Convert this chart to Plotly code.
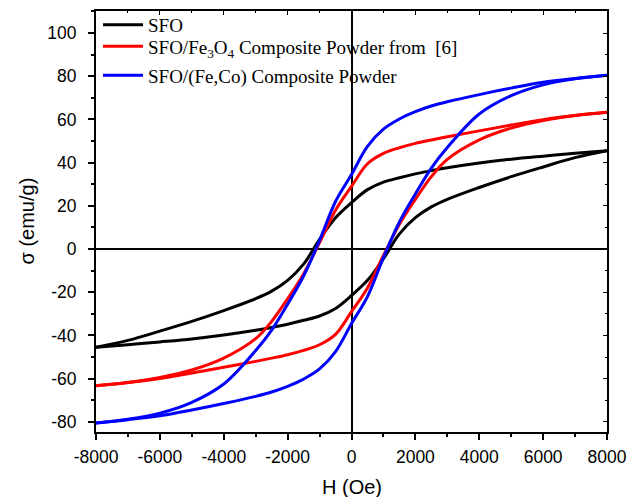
import plotly.graph_objects as go

# Field values (Oe): descending branch then ascending branch
H_down = [8000, 7000, 6000, 5000, 4000, 3000, 2500, 2000, 1500, 1000, 500, 0,
          -500, -1000, -1500, -2000, -2500, -3000, -4000, -5000, -6000, -7000, -8000]
H_up = [-8000, -7000, -6000, -5000, -4000, -3000, -2500, -2000, -1500, -1000, -500, 0,
        500, 1000, 1500, 2000, 2500, 3000, 4000, 5000, 6000, 7000, 8000]

# SFO
sfo_down = [45.5, 44.3, 43.0, 41.6, 39.8, 37.6, 36.3, 34.8, 33.0, 31.0, 27.5, 21.5,
            14.5, 4.5, -7.0, -14.5, -19.5, -23.0, -28.5, -33.5, -38.0, -42.3, -45.5]
sfo_up = [-45.5, -44.3, -43.0, -41.6, -39.8, -37.6, -36.3, -34.8, -33.0, -31.0, -27.5, -21.5,
          -14.5, -4.5, 7.0, 14.5, 19.5, 23.0, 28.5, 33.5, 38.0, 42.3, 45.5]

# SFO/Fe3O4
fe3o4_down = [63.3, 61.8, 59.9, 57.4, 54.7, 52.0, 50.5, 48.9, 46.9, 44.3, 39.5, 29.0,
              18.0, 3.0, -11.5, -23.0, -33.5, -41.5, -50.5, -56.0, -59.5, -61.8, -63.3]
fe3o4_up = [-63.3, -61.8, -59.9, -57.4, -54.7, -52.0, -50.5, -48.9, -46.9, -44.3, -39.5, -29.0,
            -18.0, -3.0, 11.5, 23.0, 33.5, 41.5, 50.5, 56.0, 59.5, 61.8, 63.3]

# SFO/(Fe,Co)
feco_down = [80.5, 79.0, 77.2, 74.5, 71.5, 68.2, 66.2, 63.6, 60.2, 55.5, 47.5, 34.5,
             22.0, 4.0, -12.5, -25.5, -37.5, -47.0, -62.5, -71.0, -76.0, -78.8, -80.5]
feco_up = [-80.5, -79.0, -77.2, -74.5, -71.5, -68.2, -66.2, -63.6, -60.2, -55.5, -47.5, -34.5,
           -22.0, -4.0, 12.5, 25.5, 37.5, 47.0, 62.5, 71.0, 76.0, 78.8, 80.5]

names = ["SFO",
         "SFO/Fe<sub>3</sub>O<sub>4</sub> Composite Powder from\u00a0\u00a0[6]",
         "SFO/(Fe,Co) Composite Powder"]
colors = ["#000000", "#FF0000", "#0000FF"]
legends = ["legend", "legend2", "legend3"]
series = [(sfo_down, sfo_up), (fe3o4_down, fe3o4_up), (feco_down, feco_up)]

x_ticks = [-8000, -6000, -4000, -2000, 0, 2000, 4000, 6000, 8000]
y_ticks = [-80, -60, -40, -20, 0, 20, 40, 60, 80, 100]
x_title = "H (Oe)"
y_title = "σ (emu/g)"

fig = go.Figure()
for i, (name, color, lg, (down, up)) in enumerate(zip(names, colors, legends, series)):
    fig.add_trace(go.Scatter(
        x=H_down, y=down, mode="lines", name=name, legend=lg,
        legendgroup="g%d" % i,
        line=dict(color=color, width=3, shape="spline", smoothing=1.0),
    ))
    fig.add_trace(go.Scatter(
        x=H_up, y=up, mode="lines", name=name, legend=lg,
        legendgroup="g%d" % i, showlegend=False,
        line=dict(color=color, width=3, shape="spline", smoothing=1.0),
    ))

# dummy trace to host mirrored inside ticks on top/right
fig.add_trace(go.Scatter(x=[None], y=[None], xaxis="x2", yaxis="y2",
                         showlegend=False, hoverinfo="skip"))

tickfont = dict(family="Liberation Sans, Arial, sans-serif", size=17.5, color="black")
titlefont = dict(family="Liberation Sans, Arial, sans-serif", size=20, color="black")
legfont = dict(family="Liberation Serif, Times New Roman, serif", size=19, color="black")

xr = [-8000, 8000]
yr = [-84.7, 110.2]

PLOT_TOP, PLOT_BOTTOM, PLOT_LEFT, PLOT_W = 11, 432, 96, 511
PLOT_H = PLOT_BOTTOM - PLOT_TOP


def leg(ytop):
    return dict(x=(98 - PLOT_LEFT) / PLOT_W, y=(PLOT_BOTTOM - ytop) / PLOT_H,
                xanchor="left", yanchor="top",
                bgcolor="rgba(0,0,0,0)", borderwidth=0, font=legfont,
                tracegroupgap=0, itemwidth=40)


fig.update_layout(
    width=643, height=497,
    margin=dict(l=96, r=36, t=11, b=65, autoexpand=False),
    paper_bgcolor="white", plot_bgcolor="white",
    showlegend=True,
    legend=leg(6),
    legend2=leg(27.4),
    legend3=leg(56.4),
    xaxis=dict(range=xr, tickmode="array", tickvals=x_ticks,
               ticktext=[str(v) for v in x_ticks],
               ticks="outside", ticklen=6, tickwidth=1.5, tickcolor="black",
               minor=dict(ticks="outside", ticklen=3, tickwidth=1.5, tickcolor="black",
                          dtick=1000, tick0=0, showgrid=False),
               showline=True, linewidth=2, linecolor="black", mirror=True,
               showgrid=False, zeroline=True, zerolinecolor="black", zerolinewidth=2,
               tickfont=tickfont, ticklabelstandoff=2),
    yaxis=dict(range=yr, tickmode="array", tickvals=y_ticks,
               ticktext=[str(v) for v in y_ticks],
               ticks="outside", ticklen=6, tickwidth=1.5, tickcolor="black",
               minor=dict(ticks="outside", ticklen=3, tickwidth=1.5, tickcolor="black",
                          dtick=10, tick0=0, showgrid=False),
               showline=True, linewidth=2, linecolor="black", mirror=True,
               showgrid=False, zeroline=True, zerolinecolor="black", zerolinewidth=2,
               tickfont=tickfont, ticklabelstandoff=8),
    xaxis2=dict(range=xr, overlaying="x", side="top", anchor="y",
                tickmode="linear", tick0=0, dtick=2000,
                ticks="inside", ticklen=4, tickwidth=1.2, tickcolor="black",
                minor=dict(ticks="inside", ticklen=2, tickwidth=1.2, tickcolor="black",
                           dtick=1000, tick0=0),
                showticklabels=False, showline=False, showgrid=False, zeroline=False),
    yaxis2=dict(range=yr, overlaying="y", side="right", anchor="x",
                tickmode="linear", tick0=0, dtick=20,
                ticks="inside", ticklen=4, tickwidth=1.2, tickcolor="black",
                minor=dict(ticks="inside", ticklen=2, tickwidth=1.2, tickcolor="black",
                           dtick=10, tick0=0),
                showticklabels=False, showline=False, showgrid=False, zeroline=False),
    annotations=[
        dict(text=x_title, xref="paper", yref="paper", x=0.5,
             y=(PLOT_BOTTOM - 487) / PLOT_H, xanchor="center", yanchor="middle",
             showarrow=False, font=titlefont),
        dict(text=y_title, xref="paper", yref="paper", x=(26 - PLOT_LEFT) / PLOT_W,
             y=0.5, xanchor="center", yanchor="middle", textangle=-90,
             showarrow=False, font=titlefont),
    ],
)

fig.write_html("out.html")
